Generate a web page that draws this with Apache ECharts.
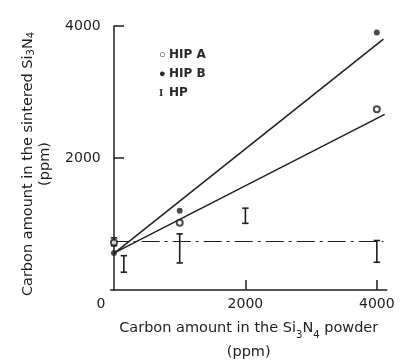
<!DOCTYPE html>
<html><head><meta charset="utf-8">
<script src="https://cdn.jsdelivr.net/npm/echarts@6/dist/echarts.min.js"></script>
<style>html,body{margin:0;padding:0;background:#fff}#c{width:400px;height:364px}</style>
</head><body><div id="c"></div>
<script>
const xLabelTicks = [0, 2000, 4000];
const xTickMarks = [2000, 4000];
const yTicks = [2000, 4000];
const hipAx = [0, 1000, 4000];
const hipAy = [720, 1020, 2740];
const hipBx = [0, 1000, 4000];
const hipBy = [560, 1200, 3900];
const hpX = [0, 150, 1000, 2000, 4000];
const hpLow = [670, 270, 410, 1010, 420];
const hpHigh = [790, 520, 850, 1240, 750];
const fitAx = [20, 4120];
const fitAy = [570, 2660];
const fitBx = [20, 4100];
const fitBy = [570, 3800];
const hpLineX = [-50, 4100];
const hpLineY = [735, 735];
const legendGlyphs = {'HIP A': '○', 'HIP B': '●', 'HP': 'I'};

const ink = '#1e1e1e';
const font = 'DejaVu Sans';
const zip = (a, b) => a.map((v, i) => [v, b[i]]);
const sub = {fontSize: 10, fontFamily: font, color: ink, verticalAlign: 'bottom'};
const chart = echarts.init(document.getElementById('c'));
chart.setOption({
  animation: false,
  backgroundColor: '#fff',
  grid: {left: 110.7, right: 13.3, top: 26, bottom: 74, containLabel: false, outerBoundsMode: 'none'},
  legend: {
    orient: 'vertical', left: 149, top: 43, itemGap: 5, itemWidth: 0, itemHeight: 0, icon: 'none',
    data: ['HIP A', 'HIP B', 'HP'],
    formatter: n => '{g|' + legendGlyphs[n] + '}' + n,
    textStyle: {fontFamily: font, fontSize: 12, fontWeight: 'bold', color: '#2a2a2a', lineHeight: 14, padding: 0,
      rich: {g: {fontFamily: 'Liberation Serif', fontSize: 11, fontWeight: 'bold', color: '#2a2a2a', width: 10, align: 'left'}}}
  },
  xAxis: {
    type: 'value', min: -50, max: 4150,
    axisLine: {lineStyle: {color: ink, width: 1.5}},
    axisTick: {show: true, inside: true, length: 10, customValues: xTickMarks, lineStyle: {color: ink, width: 1.5}},
    splitLine: {show: false},
    axisLabel: {customValues: xLabelTicks, fontFamily: font, fontSize: 14, color: ink, margin: 7,
      formatter: v => v === 0 ? '{z|0}' : String(v),
      rich: {z: {fontFamily: font, fontSize: 14, color: ink, padding: [0, 26, 0, 0]}}},
    name: 'Carbon amount in the Si{s|3}N{s|4} powder\n(ppm)',
    nameLocation: 'middle', nameGap: 26,
    nameTextStyle: {fontFamily: font, fontSize: 14.5, color: ink, lineHeight: 24, rich: {s: sub}}
  },
  yAxis: {
    type: 'value', min: 0, max: 4000,
    axisLine: {show: true, lineStyle: {color: ink, width: 1.5}},
    axisTick: {show: true, inside: true, length: 10, customValues: yTicks, lineStyle: {color: ink, width: 1.5}},
    splitLine: {show: false},
    axisLabel: {customValues: yTicks, fontFamily: font, fontSize: 14, color: ink, margin: 10, formatter: v => String(v)},
    name: 'Carbon amount in the sintered Si{s|3}N{s|4}\n(ppm)',
    nameLocation: 'middle', nameRotate: 90, nameGap: 57,
    nameTextStyle: {fontFamily: font, fontSize: 14.5, color: ink, lineHeight: 17, padding: [0, 12, 0, 0], rich: {s: sub}}
  },
  series: [
    {name: 'fitA', type: 'line', data: zip(fitAx, fitAy), symbol: 'none', lineStyle: {color: ink, width: 1.5}, z: 2},
    {name: 'fitB', type: 'line', data: zip(fitBx, fitBy), symbol: 'none', lineStyle: {color: ink, width: 1.5}, z: 2},
    {name: 'hpLine', type: 'line', data: zip(hpLineX, hpLineY), symbol: 'none', lineStyle: {color: ink, width: 1.2, type: [18, 5, 3, 5]}, z: 2},
    {name: 'HIP A', type: 'scatter', data: zip(hipAx, hipAy), symbol: 'emptyCircle', symbolSize: 6,
      itemStyle: {color: ink, borderWidth: 1.2}, z: 4},
    {name: 'HIP B', type: 'scatter', data: zip(hipBx, hipBy), symbol: 'circle', symbolSize: 6,
      itemStyle: {color: ink}, z: 4},
    {name: 'HP', type: 'custom', itemStyle: {color: ink}, z: 3,
      data: hpX.map((x, i) => [x, hpLow[i], hpHigh[i]]),
      encode: {x: 0, y: [1, 2]},
      renderItem: (params, api) => {
        const lo = api.coord([api.value(0), api.value(1)]);
        const hi = api.coord([api.value(0), api.value(2)]);
        const w = 3.2;
        const st = {stroke: ink, lineWidth: 1.6};
        return {type: 'group', children: [
          {type: 'line', shape: {x1: lo[0], y1: lo[1], x2: hi[0], y2: hi[1]}, style: st},
          {type: 'line', shape: {x1: lo[0] - w, y1: lo[1], x2: lo[0] + w, y2: lo[1]}, style: st},
          {type: 'line', shape: {x1: hi[0] - w, y1: hi[1], x2: hi[0] + w, y2: hi[1]}, style: st}
        ]};
      }
    }
  ]
});
</script></body></html>
